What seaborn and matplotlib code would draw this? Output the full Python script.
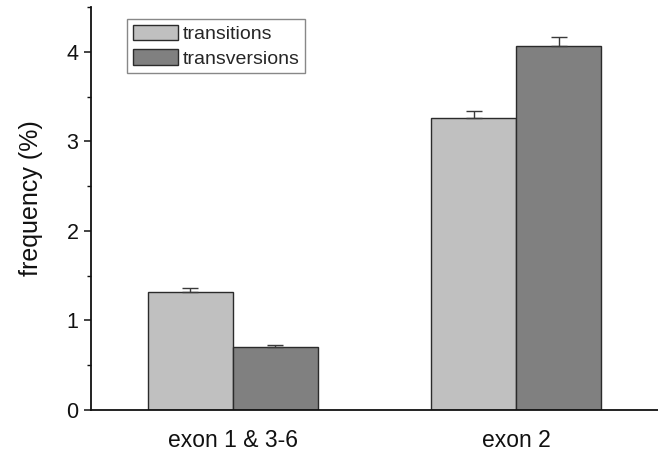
import matplotlib
matplotlib.use("Agg")
import matplotlib.pyplot as plt
import seaborn as sns
import pandas as pd
import numpy as np
from matplotlib.ticker import MultipleLocator

regions = ["exon 1 & 3-6", "exon 2"]
mutation_types = ["transitions", "transversions"]
transitions = [1.32, 3.26]
transversions = [0.70, 4.06]
transitions_err = [0.04, 0.08]
transversions_err = [0.03, 0.11]

df = pd.DataFrame({
    "region": regions * 2,
    "type": [mutation_types[0]] * 2 + [mutation_types[1]] * 2,
    "freq": transitions + transversions,
})
errors = {mutation_types[0]: transitions_err, mutation_types[1]: transversions_err}
values = {mutation_types[0]: transitions, mutation_types[1]: transversions}

sns.set_style("ticks")
plt.rcParams["font.family"] = ["Liberation Sans", "DejaVu Sans"]

fig = plt.figure(figsize=(6.58, 4.51), dpi=100)
ax = fig.add_axes([91 / 658, 41 / 451, 567 / 658, 403 / 451])

edge = "#2b2b2b"
sns.barplot(data=df, x="region", y="freq", hue="type", hue_order=mutation_types,
            palette=["#c0c0c0", "#808080"], saturation=1, width=0.6,
            edgecolor=edge, linewidth=1.0, errorbar=None, ax=ax)

# upper-only error bars centred on each bar
for cont, name in zip(ax.containers, mutation_types):
    centers = [b.get_x() + b.get_width() / 2 for b in cont]
    errs = errors[name]
    ax.errorbar(centers, values[name], yerr=[np.zeros(len(errs)), errs],
                fmt="none", ecolor="#3a3a3a", elinewidth=1.0, capsize=5.5,
                capthick=1.0, zorder=1)

ax.set_xlim(-0.5, 1.5)
ax.set_ylim(0, 4.5)
ax.yaxis.set_major_locator(MultipleLocator(1))
ax.yaxis.set_minor_locator(MultipleLocator(0.5))

for side in ["top", "right"]:
    ax.spines[side].set_visible(False)
for side in ["left", "bottom"]:
    ax.spines[side].set_color("#111111")
    ax.spines[side].set_linewidth(1.3)

ax.tick_params(axis="y", which="major", length=5, width=1.1, direction="out",
               labelsize=15.5, pad=4, colors="#111111")
ax.tick_params(axis="y", which="minor", length=3, width=1.0, direction="out",
               colors="#111111")
ax.tick_params(axis="x", length=0, labelsize=16.5, pad=14, colors="#111111")

ax.set_xlabel("")
ax.set_ylabel("frequency (%)", fontsize=18, color="#111111")
ax.yaxis.set_label_coords(-0.085, 0.525)

handles, labels = ax.get_legend_handles_labels()
ax.legend(handles, labels, loc="upper left",
          bbox_to_anchor=(127 / 658, 1 - 19 / 451), bbox_transform=fig.transFigure,
          borderaxespad=0, fontsize=14, frameon=True, fancybox=False,
          edgecolor="#888888", framealpha=1, handlelength=2.3, handleheight=0.85,
          handletextpad=0.25, labelspacing=0.3, borderpad=0.3)

fig.savefig("out.png", dpi=100)
